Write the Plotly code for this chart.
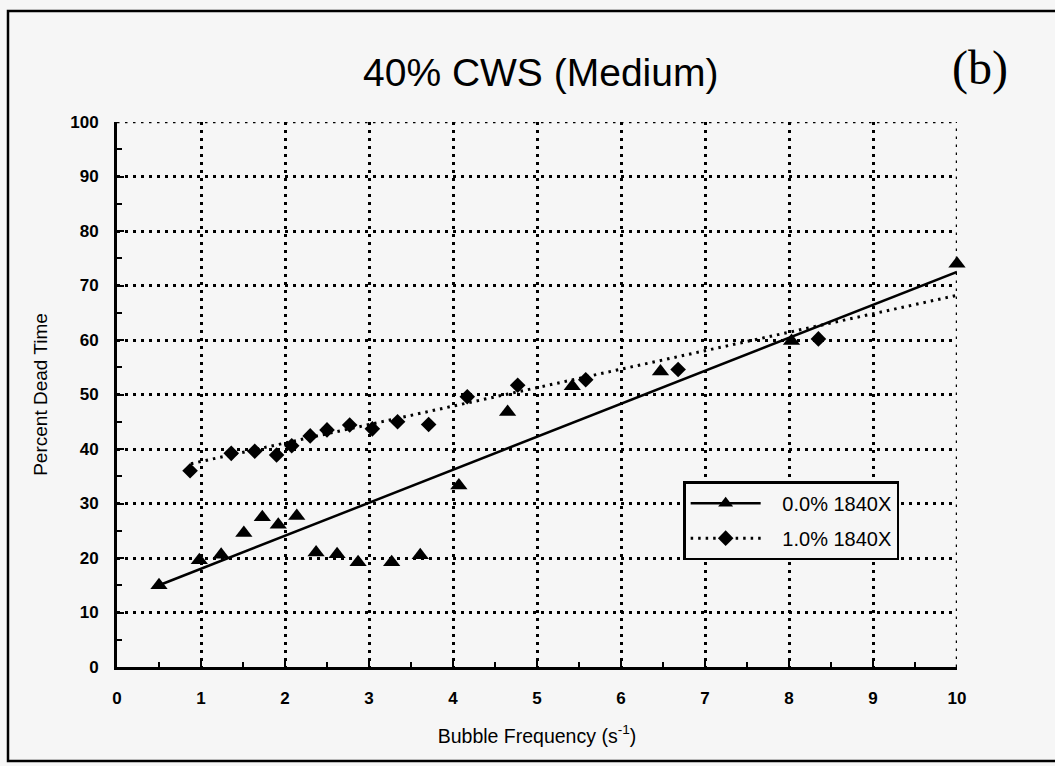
import plotly.graph_objects as go

# 0.0% 1840X runs (triangles)
freq_0 = [0.50, 0.98, 1.24, 1.51, 1.73, 1.92, 2.14, 2.37, 2.62, 2.87, 3.27, 3.61,
          4.07, 4.65, 5.42, 6.47, 8.03, 10.00]
dead_0 = [15.0, 19.6, 20.6, 24.6, 27.5, 26.1, 27.7, 21.0, 20.7, 19.2, 19.2, 20.5,
          33.3, 46.8, 51.5, 54.2, 59.8, 74.0]

# 1.0% 1840X runs (diamonds)
freq_1 = [0.87, 1.36, 1.64, 1.90, 2.08, 2.30, 2.50, 2.77, 3.04, 3.34, 3.71,
          4.17, 4.77, 5.58, 6.68, 8.35]
dead_1 = [36.0, 39.2, 39.6, 38.9, 40.6, 42.4, 43.5, 44.4, 43.7, 45.0, 44.5,
          49.6, 51.7, 52.7, 54.6, 60.2]

# linear trend lines (end points)
trend_0_x = [0.50, 10.00]
trend_0_y = [15.0, 72.5]
trend_1_x = [0.88, 10.00]
trend_1_y = [37.3, 68.2]

series_names = ["0.0% 1840X", "1.0% 1840X"]

x_ticks = list(range(0, 11))
y_ticks = list(range(0, 101, 10))
X_RANGE = [0, 10]
Y_RANGE = [0, 100]

BG = "#f6f6f6"
INK = "black"
FONT = "Arial, Liberation Sans, Helvetica, sans-serif"
DOTS = "2.5px,5.5px"
GRID_W = 2.5

fig = go.Figure()

# trend lines
fig.add_trace(go.Scatter(x=trend_0_x, y=trend_0_y, mode="lines",
                         line=dict(color=INK, width=2.5), showlegend=False,
                         hoverinfo="skip"))
fig.add_trace(go.Scatter(x=trend_1_x, y=trend_1_y, mode="lines",
                         line=dict(color=INK, width=3, dash="2.5px,5px"),
                         showlegend=False, hoverinfo="skip"))

# measured points
fig.add_trace(go.Scatter(x=freq_0, y=dead_0, mode="markers", cliponaxis=False,
                         marker=dict(symbol="triangle-up", size=15, color=INK),
                         showlegend=False))
fig.add_trace(go.Scatter(x=freq_1, y=dead_1, mode="markers", cliponaxis=False,
                         marker=dict(symbol="diamond", size=12, color=INK),
                         showlegend=False))

# legend entries (line + marker)
pad = "\u00a0\u00a0\u00a0"
fig.add_trace(go.Scatter(x=[None], y=[None], mode="lines+markers",
                         name=pad + series_names[0], legendgroup="a",
                         line=dict(color=INK, width=2.5),
                         marker=dict(symbol="triangle-up", size=13, color=INK)))
fig.add_trace(go.Scatter(x=[None], y=[None], mode="lines+markers",
                         name=pad + series_names[1], legendgroup="b",
                         line=dict(color=INK, width=3, dash="2.5px,5px"),
                         marker=dict(symbol="diamond", size=12, color=INK)))

axis_common = dict(
    showline=True, linecolor=INK, linewidth=3, mirror=False,
    showgrid=True, gridcolor=INK, gridwidth=GRID_W, griddash=DOTS,
    zeroline=False, ticks="inside", tickcolor=INK, tickwidth=2, ticklen=7,
    tickfont=dict(family=FONT, size=17, color=INK, weight="bold"),
    minor=dict(ticks="inside", ticklen=5, tickwidth=2, tickcolor=INK,
               showgrid=False),
)

fig.update_xaxes(range=X_RANGE, tickvals=x_ticks, ticktext=[str(v) for v in x_ticks],
                 minor_dtick=0.5, ticklabelstandoff=14,
                 title=dict(text="Bubble Frequency (s<sup>-1</sup>)",
                            font=dict(family=FONT, size=19.5, color=INK),
                            standoff=22),
                 **axis_common)
fig.update_yaxes(range=Y_RANGE, tickvals=y_ticks, ticktext=[str(v) for v in y_ticks],
                 minor_dtick=5, ticklabelstandoff=12,
                 title=dict(text="Percent Dead Time",
                            font=dict(family=FONT, size=19, color=INK),
                            standoff=18),
                 **axis_common)

# dotted grid lines along the upper and right range limits
edge_grid = dict(color=INK, width=GRID_W, dash=DOTS)
fig.add_shape(type="line", xref="paper", yref="y", x0=0, x1=1,
              y0=Y_RANGE[1], y1=Y_RANGE[1], line=edge_grid, layer="below")
fig.add_shape(type="line", xref="x", yref="paper", x0=X_RANGE[1], x1=X_RANGE[1],
              y0=0, y1=1, line=edge_grid, layer="below")

fig.update_layout(
    width=1055, height=766,
    margin=dict(l=117, r=98, t=122, b=99),
    paper_bgcolor=BG, plot_bgcolor=BG,
    font=dict(family=FONT, color=INK),
    legend=dict(x=0.674, y=0.341, xanchor="left", yanchor="top",
                bgcolor=BG, bordercolor=INK, borderwidth=2.5,
                font=dict(family=FONT, size=20, color=INK),
                itemwidth=70, tracegroupgap=6),
    showlegend=True,
    annotations=[
        dict(text="40% CWS (Medium)", xref="paper", yref="paper",
             x=0.5036, y=1.0 + (122 - 72) / 545, xanchor="center", yanchor="middle",
             showarrow=False, font=dict(family=FONT, size=39, color=INK)),
        dict(text="(b)", xref="paper", yref="paper",
             x=(980 - 117) / 840, y=1.0 + (122 - 68) / 545,
             xanchor="center", yanchor="middle", showarrow=False,
             font=dict(family="Liberation Serif, Times New Roman, serif",
                       size=48, color=INK)),
    ],
)
fig.add_shape(type="rect", xref="paper", yref="paper",
              x0=-(117 - 8) / 840, x1=1.0 + (1060 - 957) / 840,
              y0=-(761 - 667) / 545, y1=1.0 + (122 - 11) / 545,
              line=dict(color=INK, width=2.5), layer="below")

fig.write_html("out.html")
